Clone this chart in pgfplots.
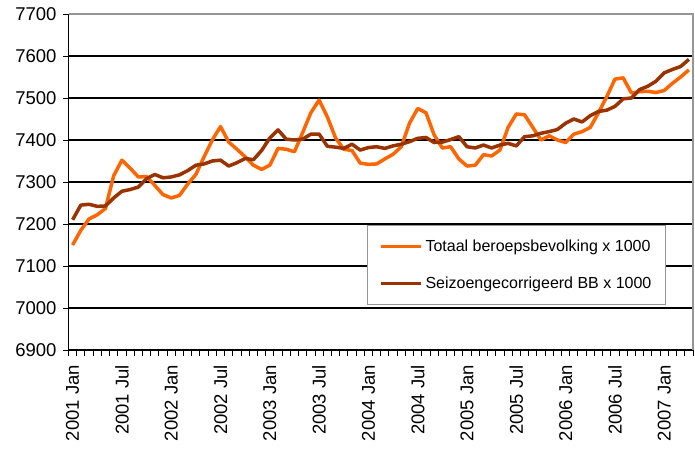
\documentclass[border=0pt]{standalone}
\usepackage{fontspec}
\setmainfont{Liberation Sans}
\usepackage{pgfplots}
\pgfplotsset{compat=1.18}
\usepackage{pgfplotstable}

\definecolor{totaal}{RGB}{255,102,0}
\definecolor{seizoen}{RGB}{153,51,0}
\definecolor{frame}{RGB}{150,150,150}

% month index 0 = 2001 Jan
\pgfplotstableread{
i  totaal seizoen
0  7150 7210
1  7185 7245
2  7212 7247
3  7222 7242
4  7237 7243
5  7315 7262
6  7352 7278
7  7333 7282
8  7312 7288
9  7313 7308
10 7292 7318
11 7270 7310
12 7262 7312
13 7268 7317
14 7295 7327
15 7318 7340
16 7360 7343
17 7400 7350
18 7432 7352
19 7395 7338
20 7378 7346
21 7360 7356
22 7340 7353
23 7330 7375
24 7340 7405
25 7380 7424
26 7378 7402
27 7372 7400
28 7418 7402
29 7465 7414
30 7495 7414
31 7455 7385
32 7405 7383
33 7378 7380
34 7375 7390
35 7345 7376
36 7342 7382
37 7343 7384
38 7355 7380
39 7366 7386
40 7384 7390
41 7440 7396
42 7475 7404
43 7465 7406
44 7412 7394
45 7381 7395
46 7384 7401
47 7355 7408
48 7338 7384
49 7340 7381
50 7365 7388
51 7362 7381
52 7376 7388
53 7430 7392
54 7462 7386
55 7460 7408
56 7430 7410
57 7400 7416
58 7410 7420
59 7400 7425
60 7394 7440
61 7414 7450
62 7420 7443
63 7430 7458
64 7465 7468
65 7503 7471
66 7545 7480
67 7548 7498
68 7512 7500
69 7515 7520
70 7516 7528
71 7513 7540
72 7518 7560
73 7535 7568
74 7550 7575
75 7567 7592
}\bbdata

\begin{document}
\begin{tikzpicture}
\begin{axis}[
  scale only axis,
  width=624.5bp, height=336bp,
  xmin=-0.5, xmax=75.5,
  ymin=6900, ymax=7700,
  axis lines=left,
  axis line style={-, black, line width=1.6bp},
  ytick={6900,7000,...,7700},
  xtick={-0.5,0.5,...,75.5},
  x tick label as interval,
  xticklabels={2001 Jan,,,,,,2001 Jul,,,,,,2002 Jan,,,,,,2002 Jul,,,,,,
    2003 Jan,,,,,,2003 Jul,,,,,,2004 Jan,,,,,,2004 Jul,,,,,,
    2005 Jan,,,,,,2005 Jul,,,,,,2006 Jan,,,,,,2006 Jul,,,,,,2007 Jan,,,},
  tick align=outside,
  major tick length=5.5bp,
  tick style={black, line width=1bp},
  ymajorgrids,
  grid style={black, line width=1.1bp},
  ticklabel style={font=\fontsize{18.5bp}{22bp}\selectfont},
  xticklabel style={rotate=90, anchor=east},
  xticklabel shift=6bp,
  yticklabel shift=3bp,
  /pgf/number format/1000 sep={},
  /pgf/number format/assume math mode=true,
  legend cell align=left,
  legend image code/.code={\draw[#1] (0bp,0bp) -- (40bp,0bp);},
  legend style={at={(0.478,0.372)}, anchor=north west, draw=frame,
    fill=white, line width=1bp, font=\fontsize{16bp}{19bp}\selectfont,
    inner xsep=12bp, inner ysep=14.5bp, row sep=24bp,
    nodes={inner xsep=2.5bp, inner ysep=0bp}},
  after end axis/.code={
    \draw[frame, line width=1.6bp] (rel axis cs:0,1) -- (rel axis cs:1,1) -- (rel axis cs:1,0);
    \coordinate (sw) at (rel axis cs:0,0);
    \coordinate (ne) at (rel axis cs:1,1);
  },
]
\addplot[totaal, line width=3.5bp, line join=round] table[x=i, y=totaal] {\bbdata};
\addlegendentry{Totaal beroepsbevolking x 1000}
\addplot[seizoen, line width=3.5bp, line join=round] table[x=i, y=seizoen] {\bbdata};
\addlegendentry{Seizoengecorrigeerd BB x 1000}
\end{axis}
\pgfresetboundingbox
\path ([xshift=-68.5bp,yshift=-98bp]sw) rectangle ([xshift=2bp,yshift=14bp]ne);
\end{tikzpicture}
\end{document}
